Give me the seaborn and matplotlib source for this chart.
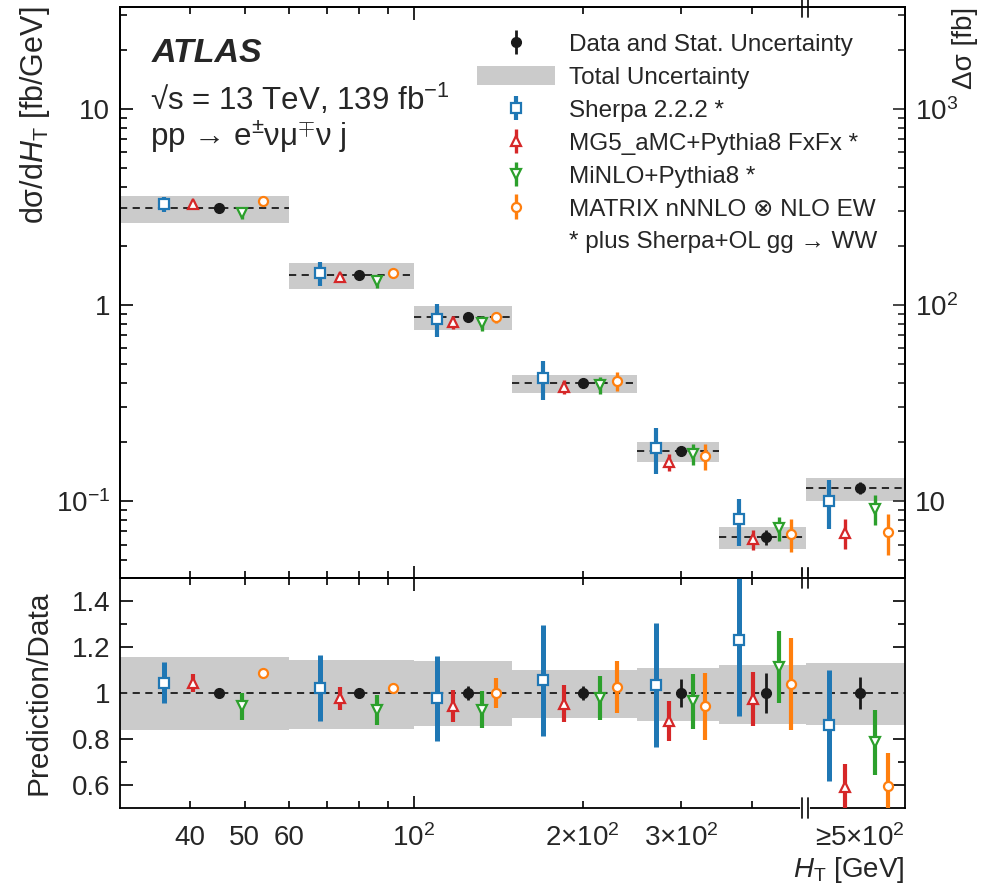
import numpy as np
import matplotlib
matplotlib.use("Agg")
import matplotlib.pyplot as plt
import matplotlib.ticker as mticker
from matplotlib.patches import Patch
from matplotlib.lines import Line2D
from matplotlib.transforms import blended_transform_factory
import seaborn as sns

# H_T bin edges [GeV]; the last bin is the overflow (>= 500 GeV), drawn up to 750
bin_edges = [30, 60, 100, 150, 250, 350, 500, 750]

# measured dsigma/dH_T [fb/GeV] (overflow read on the same left scale)
data_xs = [3.12, 1.42, 0.868, 0.40, 0.18, 0.0655, 0.1165]
data_stat = [0.015, 0.02, 0.03, 0.03, 0.06, 0.085, 0.07]
tot_up = [1.155, 1.145, 1.137, 1.10, 1.11, 1.123, 1.13]
tot_dn = [0.84, 0.845, 0.855, 0.89, 0.877, 0.866, 0.862]

# prediction / data and its relative uncertainty
sherpa_ratio = [1.045, 1.022, 0.978, 1.055, 1.036, 1.232, 0.859]
sherpa_err = [0.09, 0.145, 0.185, 0.24, 0.27, 0.33, 0.24]
mg5_ratio = [1.043, 0.978, 0.942, 0.953, 0.877, 0.974, 0.591]
mg5_err = [0.04, 0.05, 0.07, 0.08, 0.087, 0.118, 0.10]
minlo_ratio = [0.942, 0.927, 0.927, 0.978, 0.964, 1.113, 0.785]
minlo_err = [0.06, 0.065, 0.08, 0.095, 0.12, 0.155, 0.14]
matrix_ratio = [1.087, 1.022, 1.0, 1.026, 0.942, 1.04, 0.597]
matrix_err = [0.01, 0.01, 0.065, 0.113, 0.145, 0.2, 0.14]

labels = ["Sherpa 2.2.2 *", "MG5_aMC+Pythia8 FxFx *", "MiNLO+Pythia8 *",
          "MATRIX nNNLO \u2297 NLO EW"]

sns.set_theme(style="ticks")
plt.rcParams["font.family"] = ["Liberation Sans", "DejaVu Sans"]
plt.rcParams["mathtext.fontset"] = "custom"
plt.rcParams["mathtext.rm"] = "Liberation Sans"
plt.rcParams["mathtext.it"] = "Liberation Sans:italic"
plt.rcParams["mathtext.bf"] = "Liberation Sans:bold"
plt.rcParams["axes.linewidth"] = 1.3
plt.rcParams["axes.edgecolor"] = "black"

pal = sns.color_palette("tab10")
styles = [
    dict(marker="s", color=pal[0], ms=6.5, lw=3.0, off=-2),
    dict(marker="^", color=pal[3], ms=7.5, lw=2.4, off=-1),
    dict(marker="v", color=pal[2], ms=7.5, lw=2.4, off=1),
    dict(marker="o", color=pal[1], ms=6.5, lw=2.4, off=2),
]
ratios = [sherpa_ratio, mg5_ratio, minlo_ratio, matrix_ratio]
errs = [sherpa_err, mg5_err, minlo_err, matrix_err]
band_col = "#cbcbcb"

edges = np.array(bin_edges, dtype=float)
lo, hi = edges[:-1], edges[1:]
centers = 0.5 * (lo + hi)
widths = hi - lo
data = np.array(data_xs)
stat = np.array(data_stat)

fig = plt.figure(figsize=(9.86, 8.85), dpi=100)
ax = fig.add_axes([0.1217, 0.3469, 0.796, 0.6452])
axr = fig.add_axes([0.1217, 0.0870, 0.796, 0.2599])

# ---- upper panel ----
ax.bar(lo, data * (np.array(tot_up) - np.array(tot_dn)), bottom=data * np.array(tot_dn),
       width=widths, align="edge", color=band_col, linewidth=0, zorder=1)
ax.hlines(data, lo, hi, colors="k", linestyles=(0, (4, 3)), lw=1.3, zorder=2)
hd = ax.errorbar(centers, data, yerr=data * stat, fmt="o", color="k", ms=7,
                 lw=2.0, capsize=0, zorder=5)
handles = []
for st, r, e in zip(styles, ratios, errs):
    r = np.array(r); e = np.array(e)
    x = centers + st["off"] * 0.15 * widths
    h = ax.errorbar(x, data * r, yerr=data * e, fmt=st["marker"], color=st["color"],
                    mfc="white", mec=st["color"], mew=1.6, ms=st["ms"],
                    lw=st["lw"], capsize=0, zorder=4)
    handles.append(h)

ax.set_xscale("log")
ax.set_yscale("log")
ax.set_xlim(30, 750)
ylo, yhi = 0.0405, 33
ax.set_ylim(ylo, yhi)
ax.yaxis.set_major_locator(mticker.FixedLocator([0.1, 1, 10]))
ax.yaxis.set_major_formatter(mticker.FixedFormatter(["$10^{-1}$", "1", "10"]))
ax.yaxis.set_minor_locator(mticker.LogLocator(base=10, subs=np.arange(2, 10), numticks=20))
ax.yaxis.set_minor_formatter(mticker.NullFormatter())
ax.set_ylabel("d\u03c3/d$H_{\\mathrm{T}}$ [fb/GeV]", fontsize=22, loc="top")
ax.yaxis.set_label_coords(-0.086, 1.0)

ax2 = ax.twinx()
ax2.set_yscale("log")
ax2.set_ylim(ylo * 100, yhi * 100)
ax2.yaxis.set_major_locator(mticker.FixedLocator([10, 100, 1000]))
ax2.yaxis.set_major_formatter(mticker.FixedFormatter(["10", "$10^2$", "$10^3$"]))
ax2.yaxis.set_minor_locator(mticker.LogLocator(base=10, subs=np.arange(2, 10), numticks=20))
ax2.yaxis.set_minor_formatter(mticker.NullFormatter())
ax2.set_ylabel("\u0394\u03c3 [fb]", fontsize=20, loc="top")
ax2.yaxis.set_label_coords(1.06, 1.0)

# ---- ratio panel ----
axr.bar(lo, np.array(tot_up) - np.array(tot_dn), bottom=np.array(tot_dn),
        width=widths, align="edge", color=band_col, linewidth=0, zorder=1)
axr.axhline(1, color="k", ls=(0, (4, 3)), lw=1.3, zorder=2)
axr.errorbar(centers, np.ones_like(centers), yerr=stat, fmt="o", color="k", ms=7,
             lw=2.0, capsize=0, zorder=5)
for st, r, e in zip(styles, ratios, errs):
    x = centers + st["off"] * 0.15 * widths
    axr.errorbar(x, r, yerr=e, fmt=st["marker"], color=st["color"], mfc="white",
                 mec=st["color"], mew=1.6, ms=st["ms"], lw=st["lw"] + 0.6,
                 capsize=0, zorder=4)
axr.set_xscale("log")
axr.set_xlim(30, 750)
axr.set_ylim(0.5, 1.5)
axr.yaxis.set_major_locator(mticker.FixedLocator([0.6, 0.8, 1.0, 1.2, 1.4]))
axr.yaxis.set_major_formatter(mticker.FixedFormatter(["0.6", "0.8", "1", "1.2", "1.4"]))
axr.yaxis.set_minor_locator(mticker.FixedLocator([0.7, 0.9, 1.1, 1.3]))
axr.set_ylabel("Prediction/Data", fontsize=21.5)
axr.yaxis.set_label_coords(-0.086, 0.5)
axr.set_xlabel("$H_{\\mathrm{T}}$ [GeV]", fontsize=20, loc="right", labelpad=2)

xt_major = [100]
xt_minor = [40, 50, 60, 70, 80, 90, 200, 300, 400, 625]
xt_minor_lab = ["40", "50", "60", "", "", "", "2\u00d710$^2$", "3\u00d710$^2$", "",
                "\u22655\u00d710$^2$"]
for a in (ax, axr):
    a.xaxis.set_major_locator(mticker.FixedLocator(xt_major))
    a.xaxis.set_minor_locator(mticker.FixedLocator(xt_minor))
    a.tick_params(which="both", direction="in", top=True, bottom=True, labelsize=20,
                  color="black")
    a.tick_params(which="major", length=9, width=1.2, pad=7)
    a.tick_params(which="minor", length=5, width=1.2, pad=7)
ax.tick_params(which="both", labelbottom=False, right=False)
ax2.tick_params(which="both", direction="in", labelsize=20)
ax2.tick_params(which="major", length=9, width=1.2, pad=7)
ax2.tick_params(which="minor", length=5, width=1.2)
axr.tick_params(which="both", right=True)
axr.tick_params(axis="x", which="both", pad=12)
axr.xaxis.set_major_formatter(mticker.FixedFormatter(["10$^2$"]))
axr.xaxis.set_minor_formatter(mticker.FixedFormatter(xt_minor_lab))
for a in (ax, axr):
    t = a.xaxis.get_minor_ticks()[-1]
    t.tick1line.set_visible(False)
    t.tick2line.set_visible(False)


# axis break at 500 GeV
def draw_break(a, yfrac):
    tr = blended_transform_factory(a.transData, a.transAxes)
    a.plot([491, 505], [yfrac, yfrac], color="white", lw=3, transform=tr,
           clip_on=False, zorder=10)
    hpx = a.get_position().height * fig.get_figheight() * fig.dpi
    d = 10 / hpx
    for xb in (491, 505):
        a.plot([xb, xb], [yfrac - d, yfrac + d], color="k", lw=1.3, transform=tr,
               clip_on=False, zorder=11)


for a in (ax, axr):
    draw_break(a, 0.0)
    draw_break(a, 1.0)

# ---- texts and legend ----
fig.text(152 / 986, 1 - 62 / 885, "ATLAS", fontsize=24.5, fontweight="bold",
         fontstyle="italic", va="baseline")
fig.text(150 / 986, 1 - 110 / 885, "\u221as = 13 TeV, 139 fb$^{-1}$", fontsize=22.5,
         va="baseline")
fig.text(150 / 986, 1 - 146 / 885,
         "pp \u2192 e$^{\\pm}$\u03bd\u03bc$^{\\mp}$\u03bd j", fontsize=22.5, va="baseline")

gray = Patch(facecolor=band_col, edgecolor="none")
blank = Line2D([], [], ls="none")
leg = ax.legend([hd, gray] + handles + [blank],
                ["Data and Stat. Uncertainty", "Total Uncertainty"] + labels +
                ["* plus Sherpa+OL gg \u2192 WW"],
                loc="upper left", bbox_to_anchor=(477 / 986, 1 - 33 / 885),
                bbox_transform=fig.transFigure, frameon=False, fontsize=17.5,
                handlelength=3.2, handletextpad=0.6, labelspacing=0.42,
                borderpad=0, borderaxespad=0, handleheight=0.8)

fig.savefig("out.png", dpi=100)
